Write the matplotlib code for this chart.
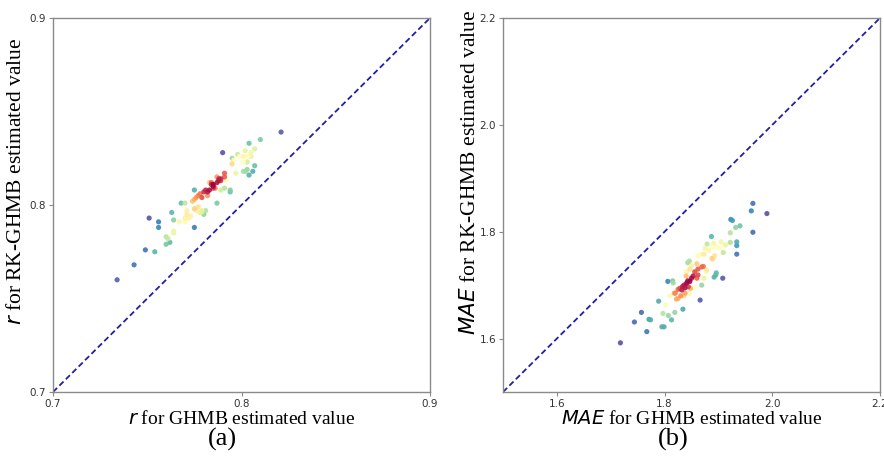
import numpy as np
import matplotlib
matplotlib.use("Agg")
import matplotlib.pyplot as plt

# ---- data -----------------------------------------------------------------
r_ghmb = [0.734, 0.743, 0.749, 0.754, 0.751, 0.756, 0.756, 0.760, 0.762, 0.760,
          0.761, 0.764, 0.764, 0.763, 0.764, 0.768, 0.767, 0.770, 0.770, 0.771,
          0.771, 0.772, 0.770, 0.773, 0.775, 0.775, 0.775, 0.774, 0.776, 0.777,
          0.778, 0.775, 0.778, 0.776, 0.779, 0.781, 0.779, 0.780, 0.777, 0.780,
          0.782, 0.782, 0.783, 0.784, 0.785, 0.785, 0.786, 0.783, 0.787, 0.788,
          0.788, 0.787, 0.789, 0.784, 0.791, 0.791, 0.792, 0.787, 0.789, 0.791,
          0.794, 0.794, 0.790, 0.797, 0.795, 0.796, 0.798, 0.795, 0.799, 0.801,
          0.803, 0.802, 0.805, 0.807, 0.804, 0.810, 0.821, 0.801, 0.802, 0.803,
          0.804, 0.806, 0.807, 0.801, 0.803, 0.805, 0.804, 0.789, 0.785, 0.781,
          0.779]
r_rk = [0.760, 0.768, 0.776, 0.775, 0.793, 0.791, 0.788, 0.779, 0.780, 0.783,
        0.782, 0.786, 0.785, 0.796, 0.792, 0.801, 0.791, 0.793, 0.791, 0.795,
        0.797, 0.793, 0.801, 0.794, 0.788, 0.808, 0.803, 0.802, 0.804, 0.805,
        0.806, 0.798, 0.796, 0.797, 0.797, 0.797, 0.796, 0.795, 0.799, 0.807,
        0.807, 0.805, 0.808, 0.811, 0.810, 0.811, 0.809, 0.812, 0.812, 0.813,
        0.814, 0.815, 0.814, 0.812, 0.817, 0.815, 0.813, 0.801, 0.808, 0.809,
        0.808, 0.807, 0.828, 0.817, 0.822, 0.824, 0.827, 0.825, 0.826, 0.826,
        0.826, 0.829, 0.828, 0.830, 0.833, 0.835, 0.839, 0.818, 0.818, 0.819,
        0.816, 0.818, 0.821, 0.823, 0.823, 0.826, 0.826, 0.813, 0.809, 0.808,
        0.804]

mae_ghmb = [1.718, 1.744, 1.757, 1.767, 1.771, 1.774, 1.795, 1.799, 1.789, 1.797,
            1.807, 1.813, 1.819, 1.806, 1.815, 1.816, 1.802, 1.810, 1.818, 1.825,
            1.828, 1.832, 1.833, 1.836, 1.838, 1.841, 1.844, 1.847, 1.850, 1.853,
            1.843, 1.840, 1.848, 1.846, 1.836, 1.825, 1.834, 1.866, 1.856, 1.869,
            1.873, 1.860, 1.856, 1.862, 1.872, 1.860, 1.847, 1.843, 1.846, 1.878,
            1.862, 1.873, 1.882, 1.879, 1.887, 1.891, 1.890, 1.893, 1.895, 1.892,
            1.896, 1.908, 1.898, 1.905, 1.909, 1.904, 1.913, 1.922, 1.922, 1.932,
            1.940, 1.923, 1.926, 1.934, 1.934, 1.934, 1.964, 1.961, 1.964, 1.990,
            1.875, 1.889, 1.866, 1.888, 1.850, 1.878, 1.862, 1.841, 1.869, 1.830,
            1.822, 1.820, 1.838]
mae_rk = [1.592, 1.631, 1.649, 1.613, 1.636, 1.635, 1.622, 1.622, 1.670, 1.647,
          1.643, 1.635, 1.649, 1.707, 1.708, 1.704, 1.663, 1.680, 1.685, 1.692,
          1.694, 1.691, 1.697, 1.700, 1.695, 1.704, 1.697, 1.707, 1.713, 1.717,
          1.708, 1.717, 1.694, 1.684, 1.680, 1.675, 1.655, 1.672, 1.696, 1.700,
          1.713, 1.713, 1.725, 1.730, 1.735, 1.740, 1.730, 1.742, 1.745, 1.725,
          1.755, 1.758, 1.765, 1.777, 1.791, 1.778, 1.749, 1.755, 1.719, 1.715,
          1.723, 1.713, 1.771, 1.781, 1.761, 1.769, 1.775, 1.780, 1.798, 1.808,
          1.811, 1.823, 1.821, 1.781, 1.774, 1.758, 1.799, 1.839, 1.853, 1.834,
          1.769, 1.771, 1.757, 1.750, 1.736, 1.728, 1.719, 1.725, 1.734, 1.680,
          1.674, 1.685, 1.685]

panel_a_ticks = [0.7, 0.8, 0.9]
panel_b_xticks = [1.6, 1.8, 2.0, 2.2]
panel_b_yticks = [1.6, 1.8, 2.0, 2.2]


def point_density(x, y, bw=None):
    """Gaussian kernel density at each sample (Scott bandwidth, full covariance)."""
    xy = np.vstack([x, y])
    n = xy.shape[1]
    factor = n ** (-1.0 / 6.0) if bw is None else bw
    cov = np.cov(xy) * factor ** 2
    inv = np.linalg.inv(cov)
    d = xy[:, :, None] - xy[:, None, :]
    m = np.einsum('ijk,il,ljk->jk', d, inv, d)
    return np.exp(-0.5 * m).sum(axis=1)


plt.rcParams['mathtext.fontset'] = 'dejavusans'
serif = 'Liberation Serif'
spine_col = '#8a8a8a'
line_col = '#1f1fa8'

fig = plt.figure(figsize=(8.84, 4.67), dpi=100)
ax_a = fig.add_axes([53 / 884, 75 / 467, 377 / 884, 374 / 467])
ax_b = fig.add_axes([503 / 884, 75 / 467, 377 / 884, 374 / 467])


def draw(ax, x, y, lo, hi, xticks, yticks, xlabel, ylabel, ylabel_pos):
    x = np.asarray(x)
    y = np.asarray(y)
    z = point_density(x, y)
    order = np.argsort(z)
    ax.plot([lo, hi], [lo, hi], linestyle='--', color=line_col, lw=1.3,
            dashes=(3.2, 1.8), zorder=1)
    ax.scatter(x[order], y[order], c=z[order], cmap='Spectral_r', s=14,
               edgecolors='none', alpha=0.9, zorder=2)
    ax.set_xlim(lo, hi)
    ax.set_ylim(lo, hi)
    ax.set_xticks(xticks)
    ax.set_yticks(yticks)
    ax.set_xticklabels([f'{t:.1f}' for t in xticks])
    ax.set_yticklabels([f'{t:.1f}' for t in yticks])
    ax.tick_params(axis='both', labelsize=7.5, length=3, width=0.8,
                   color=spine_col, labelcolor='#333333', pad=2)
    for s in ax.spines.values():
        s.set_color(spine_col)
        s.set_linewidth(1.0)
    ax.set_xlabel(xlabel, fontfamily=serif, fontsize=14, labelpad=1)
    ax.set_ylabel(ylabel, fontfamily=serif, fontsize=15.5)
    ax.yaxis.set_label_coords(*ylabel_pos)


draw(ax_a, r_ghmb, r_rk, 0.7, 0.9, panel_a_ticks, panel_a_ticks,
     r'$\mathit{r}$ for GHMB estimated value',
     r'$\mathit{r}$ for RK-GHMB estimated value', (-0.072, 0.564))
draw(ax_b, mae_ghmb, mae_rk, 1.5, 2.2, panel_b_xticks, panel_b_yticks,
     r'$\mathit{MAE}$ for GHMB estimated value',
     r'$\mathit{MAE}$ for RK-GHMB estimated value', (-0.060, 0.588))

fig.text(222 / 884, 1 - 439 / 467, '(a)', fontfamily=serif, fontsize=19,
         ha='center', va='center')
fig.text(673 / 884, 1 - 439 / 467, '(b)', fontfamily=serif, fontsize=19,
         ha='center', va='center')

fig.savefig('out.png', dpi=100)
